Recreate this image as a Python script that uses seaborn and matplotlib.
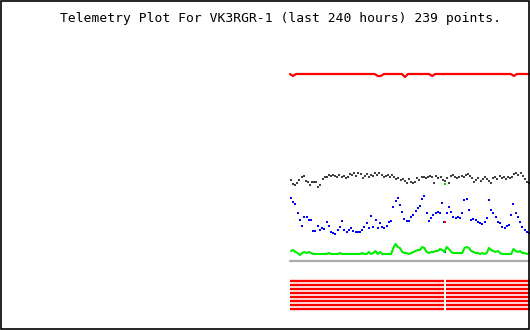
import numpy as np
import pandas as pd
import matplotlib
matplotlib.use("Agg")
import matplotlib.pyplot as plt
import seaborn as sns

title = "Telemetry Plot For VK3RGR-1 (last 240 hours) 239 points."

# Analog channels (values are plot rows, larger = lower on the chart)
red_top = [74] * 80
for i, v in [(1, 76), (29, 76), (30, 76), (38, 77), (47, 76), (74, 76)]:
    red_top[i] = v

black = [180,184,185,183,180,177,176,181,182,185,182,182,182,187,185,179,177,177,175,176,
         175,176,177,175,177,176,178,177,174,175,173,176,173,174,178,176,174,177,175,176,
         173,175,173,175,177,176,175,177,175,177,179,178,180,179,181,183,179,182,183,182,
         178,180,177,177,178,177,176,177,183,176,178,177,180,181,178,183,176,175,177,178,
         177,176,177,175,174,176,178,182,180,178,181,179,177,179,181,183,178,177,179,176,
         178,177,179,177,178,177,174,173,175,173,176,179,182,183]

blue = [198,202,204,213,220,226,217,217,220,220,231,231,226,230,228,229,222,226,232,233,
        234,230,227,221,230,232,230,228,231,232,232,232,230,227,223,228,216,227,220,228,
        223,227,228,226,222,221,207,201,198,205,212,219,221,221,217,215,211,208,206,199,
        196,213,221,218,215,213,212,213,203,222,213,207,212,217,218,217,218,213,200,199,
        210,220,219,220,222,223,224,222,218,200,210,213,217,222,223,227,228,226,225,215,
        204,213,217,222,227,230,232,233]

green = [251,250,252,253,255,253,252,253,252,253,254,254,254,254,254,254,254,253,254,254,
         254,254,253,254,254,254,254,254,254,254,254,254,253,254,254,252,254,253,251,254,
         252,254,254,254,254,254,248,244,247,248,252,253,253,254,253,252,251,250,250,247,
         248,252,253,252,252,251,251,249,250,252,247,249,252,253,253,253,253,253,248,247,
         248,251,252,253,253,254,253,254,253,248,250,251,252,251,253,254,254,254,254,254,
         249,251,252,251,253,253,254,253]

gray_level = 261
n_bits = 8
bit_gap_hour = 155

sns.set_theme(style="white")
plt.rcParams["font.family"] = ["DejaVu Sans Mono", "DejaVu Sans"]

fig = plt.figure(figsize=(5.3, 3.3), dpi=100)
ax = fig.add_axes([0, 0, 1, 1])
ax.set_xlim(-290, 240)
ax.set_ylim(330, 0)
ax.set_axis_off()

def hours(n):
    return np.linspace(1, 239, n)

# top red channel
sns.lineplot(x=np.linspace(0, 239, len(red_top)), y=red_top, ax=ax,
             color="#ff0000", lw=1.6, estimator=None, sort=False)

# gray reference line
sns.lineplot(x=[0, 240], y=[gray_level, gray_level], ax=ax, color="#aaaaaa", lw=1.6)

# green channel line
sns.lineplot(x=hours(len(green)), y=green, ax=ax, color="#00ee00", lw=1.5,
             estimator=None, sort=False)

# black and blue channels as points
sns.scatterplot(x=hours(len(black)), y=black, ax=ax, color="#404040", marker="s",
                s=2.4, linewidth=0)
sns.scatterplot(x=hours(len(blue)), y=blue, ax=ax, color="#0000ff", marker="s",
                s=3.6, linewidth=0)

# glitch points at gap hour
sns.scatterplot(x=[bit_gap_hour] * 3, y=[184, 222, 252], ax=ax,
                hue=["a", "b", "c"], palette=["#00cc00", "#ff0000", "#0000ff"],
                marker="s", s=3.6, linewidth=0, legend=False)

# digital bit rows
for k in range(n_bits):
    row = 281.3 + 4 * k
    for seg in [(0, bit_gap_hour - 0.6), (bit_gap_hour + 0.6, 240)]:
        sns.lineplot(x=list(seg), y=[row, row], ax=ax, color="#ff0000", lw=1.7,
                     solid_capstyle="butt")

fig.text(280 / 530, 1 - 18.5 / 330, title, ha="center", va="center", fontsize=9.4,
         family=["DejaVu Sans Mono"], color="black")

# frame
border = plt.Rectangle((0.001, 0.002), 0.997, 0.996, transform=fig.transFigure,
                       fill=False, edgecolor="black", lw=1.2)
fig.patches.append(border)

fig.savefig("out.png", dpi=100)
